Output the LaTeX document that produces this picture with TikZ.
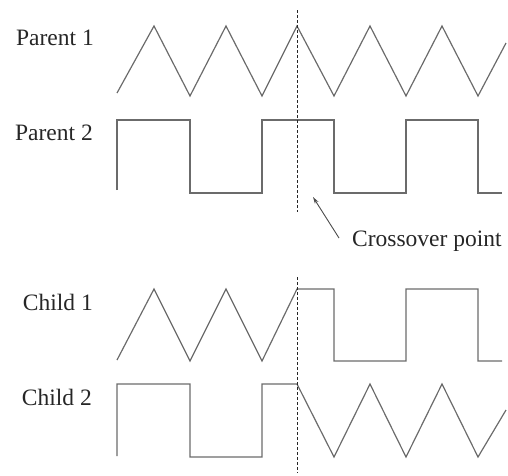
\documentclass[tikz,border=0pt]{standalone}
\usepackage{fontspec}
\setmainfont{Liberation Serif}
\usetikzlibrary{arrows.meta}
\begin{document}
\begin{tikzpicture}[x=1pt,y=-1pt,
  wave/.style={draw=black!58, line width=1.2pt, line join=miter},
  lbl/.style={font=\fontsize{23.5}{28}\selectfont, inner sep=0pt, text=black!85},
  cut/.style={draw=black!85, line width=0.9pt, dash pattern=on 3pt off 2pt},
  pointer/.style={draw=black!70, line width=0.9pt, -{Stealth[length=7pt,width=4pt]}}]
\useasboundingbox (0,0) rectangle (508,475);
% labels
\node[lbl, anchor=east] (p1) at (94,38) {Parent 1};
\node[lbl, anchor=east] (p2) at (93,133) {Parent 2};
\node[lbl, anchor=east] (c1) at (93,302) {Child 1};
\node[lbl, anchor=east] (c2) at (92,397) {Child 2};
\node[lbl, anchor=west] (cp) at (352,241) {Crossover point};
% Parent 1 (triangle)
\draw[wave] (117,93) -- (154,26) -- (190,96) -- (226,26) -- (262,96) -- (297,26)
  -- (334,96) -- (370,26) -- (406,96) -- (442,26) -- (478,96) -- (506,43);
% Parent 2 (square)
\draw[wave] (117,190) -- (117,120) -- (190,120) -- (190,193) -- (262,193) -- (262,120)
  -- (334,120) -- (334,193) -- (406,193) -- (406,120) -- (478,120) -- (478,193) -- (502,193);
% Child 1
\draw[wave] (117,360) -- (154,289) -- (190,361) -- (226,289) -- (262,361) -- (297,289)
  -- (334,289) -- (334,361) -- (406,361) -- (406,289) -- (478,289) -- (478,361) -- (502,361);
% Child 2
\draw[wave] (117,456) -- (117,384) -- (190,384) -- (190,457) -- (262,457) -- (262,384)
  -- (297,384) -- (334,457) -- (370,384) -- (406,457) -- (442,384) -- (478,457) -- (506,410);
% crossover lines
\coordinate (ta) at (297,10);
\coordinate (tb) at (297,212);
\coordinate (ba) at (297,277);
\coordinate (bb) at (297,473);
\draw[cut] (ta) -- (tb);
\draw[cut] (ba) -- (bb);
% pointer
\coordinate (tail) at (339,238);
\coordinate (tip) at (313,197);
\draw[pointer] (tail) -- (tip);
\end{tikzpicture}
\end{document}
